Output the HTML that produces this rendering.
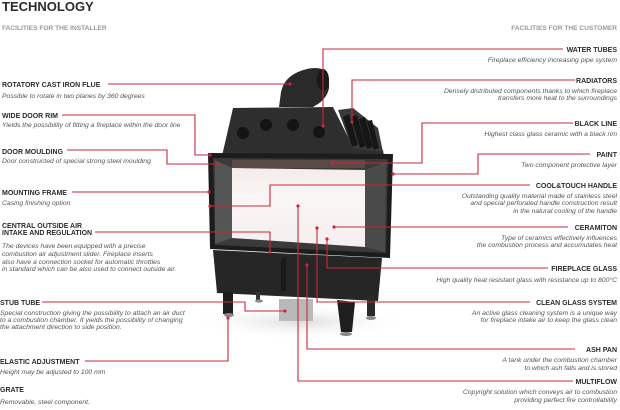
<!DOCTYPE html>
<html><head><meta charset="utf-8"><style>
html,body{margin:0;padding:0;background:#fff;}
svg{display:block;}
.l{font-family:"Liberation Sans",sans-serif;font-weight:bold;font-size:7px;fill:#2b2b2b;}
.d{font-family:"Liberation Sans",sans-serif;font-style:italic;font-size:6.8px;fill:#555;}
.h{font-family:"Liberation Sans",sans-serif;font-weight:bold;font-size:6.6px;fill:#999;}
.r{stroke:#c8283c;stroke-width:1.1;fill:none;}
.dot{fill:#c8283c;}
</style></head><body>
<svg width="620" height="410" viewBox="0 0 620 410" xmlns="http://www.w3.org/2000/svg">
<defs>
<radialGradient id="sh" cx="0.5" cy="0.5" r="0.5"><stop offset="0" stop-color="#ddd"/><stop offset="1" stop-color="#fff" stop-opacity="0"/></radialGradient>
<linearGradient id="fire" x1="0" y1="0" x2="0" y2="1"><stop offset="0" stop-color="#f3ecea"/><stop offset="0.4" stop-color="#fbf6f6"/><stop offset="1" stop-color="#f4eeee"/></linearGradient>
</defs>
<text x="2" y="11" font-family="Liberation Sans,sans-serif" font-weight="bold" font-size="13" fill="#2b2b2b">TECHNOLOGY</text>
<text x="2" y="30" class="h">FACILITIES FOR THE INSTALLER</text>
<text x="617" y="30" class="h" text-anchor="end">FACILITIES FOR THE CUSTOMER</text>

<ellipse cx="300" cy="322" rx="110" ry="18" fill="url(#sh)"/>

<!-- flue -->
<path d="M279,107 L281,92 Q284,78 298,72 Q312,66 322,69 Q330,74 329,88 Q327,98 318,104 L313,107 Z" fill="#2a2a2a"/>
<ellipse cx="323" cy="80" rx="6" ry="11" fill="#1a1a1a"/>
<!-- hood -->
<polygon points="233,108 333,107 353,147 383,150 384,156 222,156" fill="#2e2e2e"/>
<polygon points="338,110 353,108 378,128 383,152 352,148" fill="#3a3a3a"/>
<g fill="#161616">
<polygon points="343,117 349,114 358,145 352,147"/>
<polygon points="351,117 357,115 366,146 360,148"/>
<polygon points="359,119 365,117 373,147 367,149"/>
<polygon points="367,121 372,120 379,148 374,150"/>
</g>
<circle cx="243" cy="133" r="6" fill="#141414"/>
<circle cx="266" cy="125" r="6" fill="#141414"/>
<circle cx="293" cy="125" r="6" fill="#141414"/>
<circle cx="319" cy="132" r="6" fill="#141414"/>
<!-- door frame -->
<polygon points="208,153 393,154 390,258 210,249" fill="#1c1c1c"/>
<polygon points="213,158 388,159 386,253 215,245" fill="#3a3a3a"/>
<polygon points="232,168 365,170 365,247 232,238" fill="url(#fire)"/>
<polygon points="365,170 386,162 385,252 365,247" fill="#4a4a4a"/>
<polygon points="215,160 232,168 232,238 215,244" fill="#555"/>
<rect x="232" y="160" width="133" height="8" fill="#5a4a46"/>
<!-- lower body -->
<polygon points="213,250 382,258 378,301 217,293" fill="#262626"/>
<rect x="281" y="258" width="5" height="33" fill="#1a1a1a"/>
<!-- legs -->
<rect x="223" y="292" width="10" height="22" fill="#1e1e1e"/>
<ellipse cx="229" cy="315" rx="5" ry="2" fill="#888"/>
<rect x="256" y="292" width="4" height="8" fill="#333"/>
<ellipse cx="259" cy="301" rx="4" ry="1.6" fill="#888"/>
<rect x="279" y="299" width="34" height="22" fill="#b9b9b9"/>
<polygon points="337,300 355,302 352,332 341,332" fill="#1e1e1e"/>
<ellipse cx="346" cy="334" rx="6" ry="2" fill="#888"/>
<rect x="367" y="296" width="8" height="20" fill="#2a2a2a"/>
<ellipse cx="371" cy="318" rx="5" ry="2" fill="#888"/>

<g class="r">
<path d="M108,84 H290"/>
<path d="M62,115 H195 V155 H210"/>
<path d="M67,150 H167 V164 H217"/>
<path d="M72,192 H209"/>
<path d="M95,232 H270 V252"/>
<path d="M42,302 H245 V311 H285"/>
<path d="M85,361 H228 V318"/>
<path d="M323,126 V49 H563"/>
<path d="M352,122 V80 H575"/>
<path d="M332,163 H422 V123 H573"/>
<path d="M393,174 H478 V154 H590"/>
<path d="M210,206 H270 V185 H530"/>
<path d="M334,227 H568"/>
<path d="M327,239 V268 H548"/>
<path d="M317,228 V302 H530"/>
<path d="M307,265 V349 H575"/>
<path d="M298,206 V381 H573"/>
</g>
<g class="dot">
<circle cx="290" cy="84" r="1.6"/><circle cx="210" cy="155" r="1.6"/><circle cx="217" cy="164" r="1.6"/>
<circle cx="209" cy="192" r="1.6"/><circle cx="270" cy="252" r="1.6"/><circle cx="285" cy="311" r="1.6"/>
<circle cx="228" cy="318" r="1.6"/><circle cx="323" cy="126" r="1.6"/><circle cx="352" cy="122" r="1.6"/>
<circle cx="332" cy="163" r="1.6"/><circle cx="393" cy="174" r="1.6"/><circle cx="210" cy="206" r="1.6"/>
<circle cx="334" cy="227" r="1.6"/><circle cx="327" cy="239" r="1.6"/><circle cx="317" cy="228" r="1.6"/>
<circle cx="307" cy="265" r="1.6"/><circle cx="298" cy="206" r="1.6"/>
</g>

<text x="2" y="87" class="l">ROTATORY CAST IRON FLUE</text>
<text x="2" y="98" class="d">Possible to rotate in two planes by 360 degrees</text>
<text x="2" y="118" class="l">WIDE DOOR RIM</text>
<text x="2" y="127" class="d">Yields the possibility of fitting a fireplace within the door line</text>
<text x="2" y="154" class="l">DOOR MOULDING</text>
<text x="2" y="163" class="d">Door constructed of special strong steel moulding</text>
<text x="2" y="195" class="l">MOUNTING FRAME</text>
<text x="2" y="205" class="d">Casing finishing option</text>
<text x="2" y="228" class="l">CENTRAL OUTSIDE AIR</text>
<text x="2" y="235" class="l">INTAKE AND REGULATION</text>
<text x="2" y="248" class="d">The devices have been equipped with a precise</text>
<text x="2" y="256" class="d">combustion air adjustment slider. Fireplace inserts</text>
<text x="2" y="264" class="d">also have a connection socket for automatic throttles</text>
<text x="2" y="271" class="d">in standard which can be also used to connect outside air.</text>
<text x="0" y="305" class="l">STUB TUBE</text>
<text x="0" y="315" class="d">Special construction giving the possibility to attach  an air duct</text>
<text x="0" y="322" class="d">to a combustion chamber. It yields the possibility of changing</text>
<text x="0" y="329" class="d">the attachment direction to side position.</text>
<text x="0" y="364" class="l">ELASTIC ADJUSTMENT</text>
<text x="0" y="374" class="d">Height may be adjusted to 100 mm</text>
<text x="0" y="392" class="l">GRATE</text>
<text x="0" y="404" class="d">Removable, steel component.</text>

<g text-anchor="end">
<text x="617" y="52" class="l">WATER TUBES</text>
<text x="617" y="62" class="d">Fireplace efficiency increasing pipe system</text>
<text x="617" y="83" class="l">RADIATORS</text>
<text x="617" y="93" class="d">Densely distributed components thanks to which fireplace</text>
<text x="617" y="100" class="d">transfers more heat to the surroundings</text>
<text x="617" y="126" class="l">BLACK LINE</text>
<text x="617" y="136" class="d">Highest class glass ceramic with a black rim</text>
<text x="617" y="157" class="l">PAINT</text>
<text x="617" y="167" class="d">Two component protective layer</text>
<text x="617" y="188" class="l">COOL&amp;TOUCH HANDLE</text>
<text x="617" y="198" class="d">Outstanding quality material made of stainless steel</text>
<text x="617" y="205" class="d">and special perforated handle construction result</text>
<text x="617" y="213" class="d">in the natural cooling of the handle</text>
<text x="617" y="230" class="l">CERAMITON</text>
<text x="617" y="240" class="d">Type of ceramics effectively influences</text>
<text x="617" y="247" class="d">the combustion process and accumulates heat</text>
<text x="617" y="271" class="l">FIREPLACE GLASS</text>
<text x="617" y="282" class="d">High quality heat resistant glass with resistance up to 800°C</text>
<text x="617" y="305" class="l">CLEAN GLASS SYSTEM</text>
<text x="617" y="315" class="d">An active glass cleaning system is a unique way</text>
<text x="617" y="322" class="d">for fireplace intake air to keep the glass clean</text>
<text x="617" y="352" class="l">ASH PAN</text>
<text x="617" y="362" class="d">A tank under the combustion chamber</text>
<text x="617" y="370" class="d">to which ash falls and is stored</text>
<text x="617" y="384" class="l">MULTIFLOW</text>
<text x="617" y="394" class="d">Copyright solution which conveys air to combustion</text>
<text x="617" y="402" class="d">providing perfect fire controllability</text>
</g>
</svg>
</body></html>
